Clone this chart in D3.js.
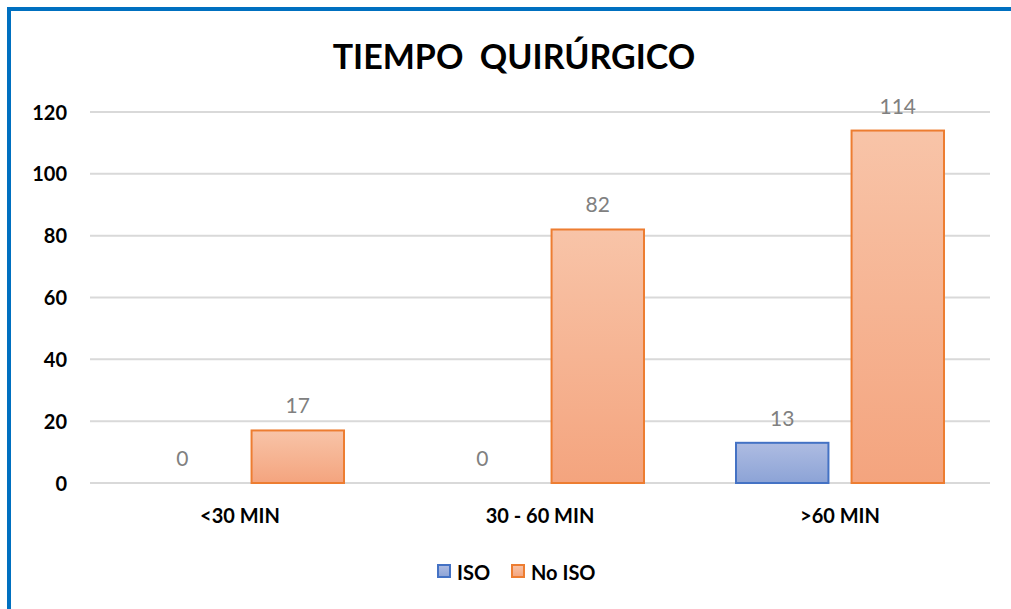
<!DOCTYPE html>
<html>
<head>
<meta charset="utf-8">
<script src="https://cdn.jsdelivr.net/npm/d3@7"></script>
<style>
  body { margin: 0; background: #fff; }
  svg { display: block; font-family: Lato, "Open Sans", sans-serif; }
</style>
</head>
<body>
<svg id="chart" width="1011" height="609"></svg>
<script>
let categorias = ["<30 MIN", "30 - 60 MIN", ">60 MIN"]
let series = ["ISO", "No ISO"]
let valoresISO = [0, 0, 13]
let valoresNoISO = [17, 82, 114]
let ticksY = [0, 20, 40, 60, 80, 100, 120]

let svg = d3.select("#chart")

// marco azul (solo arriba e izquierda)
svg.append("path")
  .attr("d", "M9,609 L9,9 L1011,9")
  .attr("fill", "none")
  .attr("stroke", "#0070C0")
  .attr("stroke-width", 4)

let defs = svg.append("defs")
let grads = [
  { id: "gIso", top: "#AEBCE2", bottom: "#8CA3D6" },
  { id: "gNo", top: "#F8C4A8", bottom: "#F4A47E" }
]
grads.forEach(g => {
  let lg = defs.append("linearGradient").attr("id", g.id)
    .attr("x1", 0).attr("y1", 0).attr("x2", 0).attr("y2", 1)
  lg.append("stop").attr("offset", "0%").attr("stop-color", g.top)
  lg.append("stop").attr("offset", "100%").attr("stop-color", g.bottom)
})
let fills = { "ISO": "url(#gIso)", "No ISO": "url(#gNo)" }
let strokes = { "ISO": "#4472C4", "No ISO": "#ED7D31" }

let x0 = d3.scaleBand().domain(categorias).range([90, 990])
let x1 = d3.scaleBand().domain(series).range([46, 254]).paddingInner(0.2)
let y = d3.scaleLinear().domain([0, 120]).range([483, 112])

// titulo
svg.append("text")
  .attr("x", 514).attr("y", 69)
  .attr("text-anchor", "middle")
  .style("white-space", "pre")
  .style("font-size", "34px").style("font-weight", "bold")
  .text("TIEMPO  QUIRÚRGICO")

// rejilla
svg.append("g").selectAll("line")
  .data(ticksY)
  .join("line")
  .attr("x1", 90).attr("x2", 990)
  .attr("y1", d => y(d)).attr("y2", d => y(d))
  .attr("stroke", "#D9D9D9").attr("stroke-width", 2)

let yAxis = d3.axisLeft(y).tickValues(ticksY).tickSize(0).tickPadding(0)
svg.append("g")
  .attr("transform", "translate(67,0)")
  .call(yAxis)
  .call(g => g.select(".domain").remove())
  .selectAll("text")
  .attr("dy", "0.35em")
  .style("font-family", "Lato, sans-serif")
  .style("font-size", "20px").style("font-weight", "bold").attr("fill", "#000")

let xAxis = d3.axisBottom(x0).tickSize(0).tickPadding(0)
svg.append("g")
  .attr("transform", "translate(0,509)")
  .call(xAxis)
  .call(g => g.select(".domain").remove())
  .selectAll("text")
  .style("font-family", "Lato, sans-serif")
  .style("font-size", "20px").style("font-weight", "bold").attr("fill", "#000")

let datos = categorias.map((c, i) => ({ cat: c, vals: [
  { serie: "ISO", v: valoresISO[i] },
  { serie: "No ISO", v: valoresNoISO[i] }
]}))

let grupos = svg.append("g").selectAll("g")
  .data(datos)
  .join("g")
  .attr("transform", d => `translate(${x0(d.cat)},0)`)

grupos.selectAll("rect")
  .data(d => d.vals.filter(e => e.v > 0))
  .join("rect")
  .attr("x", d => x1(d.serie))
  .attr("width", x1.bandwidth())
  .attr("y", d => y(d.v))
  .attr("height", d => y(0) - y(d.v))
  .attr("fill", d => fills[d.serie])
  .attr("stroke", d => strokes[d.serie])
  .attr("stroke-width", 2)

grupos.selectAll("text")
  .data(d => d.vals)
  .join("text")
  .attr("x", d => x1(d.serie) + x1.bandwidth() / 2)
  .attr("y", d => y(d.v) - 17)
  .attr("text-anchor", "middle")
  .style("font-size", "21px")
  .attr("fill", "#808080")
  .text(d => d.v)

// leyenda
let leyenda = svg.append("g").attr("transform", "translate(437,564)")
let items = [{ s: "ISO", x: 0 }, { s: "No ISO", x: 74 }]
items.forEach(it => {
  leyenda.append("rect")
    .attr("x", it.x + 1).attr("y", 1)
    .attr("width", 12).attr("height", 12)
    .attr("fill", fills[it.s]).attr("stroke", strokes[it.s]).attr("stroke-width", 2)
  leyenda.append("text")
    .attr("x", it.x + 20).attr("y", 16)
    .style("font-size", "20px").style("font-weight", "bold")
    .text(it.s)
})
</script>
</body>
</html>
